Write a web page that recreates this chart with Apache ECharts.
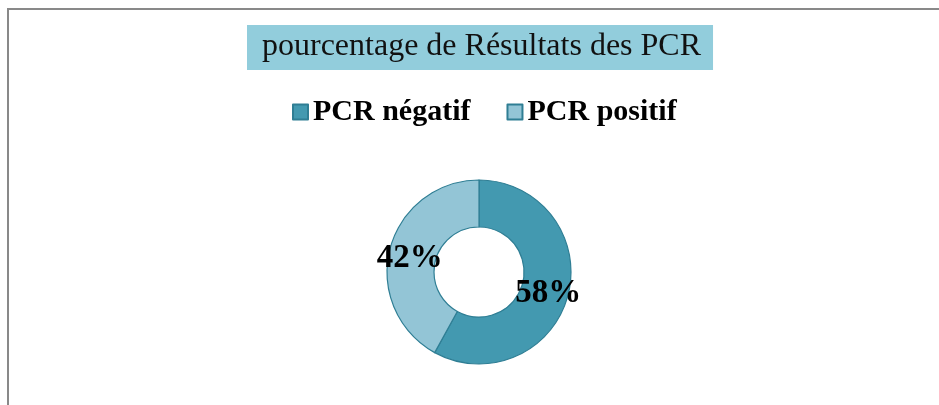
<!DOCTYPE html>
<html><head><meta charset="utf-8">
<script src="https://cdn.jsdelivr.net/npm/echarts@6/dist/echarts.min.js"></script>
<style>
html,body{margin:0;padding:0;background:#fff;}
#frame{position:absolute;left:7px;top:8px;width:932px;height:397px;border-top:2px solid #898989;border-left:2px solid #898989;}
#chart{position:absolute;left:0;top:0;width:939px;height:405px;}
</style></head>
<body>
<div id="frame"></div>
<div id="chart"></div>
<script>
const titleText = 'pourcentage de Résultats des PCR';
const categories = ['PCR négatif', 'PCR positif'];
const values = [58, 42];
const colors = ['#4399B0', '#93C5D6'];

const chart = echarts.init(document.getElementById('chart'), null, {renderer: 'canvas'});
chart.setOption({
  animation: false,
  title: {
    text: titleText,
    left: 247,
    top: 25,
    backgroundColor: '#92CDDC',
    padding: [6, 12, 7, 15],
    textStyle: {fontFamily: 'Liberation Serif', fontSize: 32, fontWeight: 'normal', color: '#111'}
  },
  legend: {
    data: categories,
    top: 92,
    left: 287,
    padding: 5,
    itemWidth: 15,
    itemHeight: 15,
    itemGap: 36,
    icon: 'rect',
    textStyle: {fontFamily: 'Liberation Serif', fontSize: 30, fontWeight: 'bold', color: '#000'}
  },
  series: [{
    type: 'pie',
    center: [479, 272],
    radius: [45, 92],
    startAngle: 90,
    clockwise: true,
    data: categories.map((c, i) => ({name: c, value: values[i], itemStyle: {color: colors[i]}})),
    itemStyle: {borderColor: '#2F7E94', borderWidth: 1.2},
    label: {
      show: true,
      position: 'inside',
      formatter: p => p.value + '%',
      fontFamily: 'Liberation Serif',
      fontSize: 33,
      fontWeight: 'bold',
      color: '#000',
      offset: [0, 4]
    },
    labelLine: {show: false},
    emphasis: {disabled: true}
  }]
});
</script>
</body></html>
